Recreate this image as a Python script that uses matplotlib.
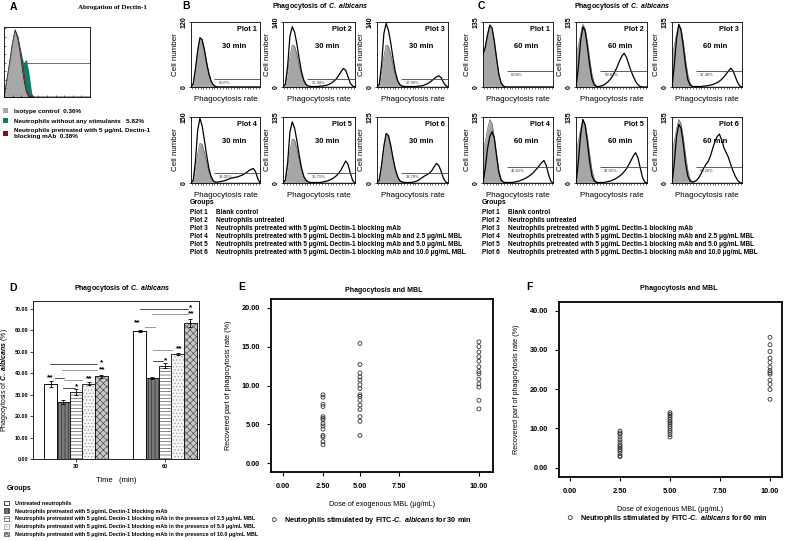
import numpy as np
import matplotlib
matplotlib.use('Agg')
import matplotlib.pyplot as plt

plt.rcParams['font.family'] = ['Liberation Sans', 'DejaVu Sans']
plt.rcParams['font.weight'] = 'bold'
plt.rcParams['mathtext.fontset'] = 'custom'
plt.rcParams['mathtext.it'] = 'Liberation Sans:italic:bold'
plt.rcParams['mathtext.rm'] = 'Liberation Sans:bold'
plt.rcParams['mathtext.bf'] = 'Liberation Sans:bold'
plt.rcParams['hatch.linewidth'] = 0.5

# ---------------- DATA ----------------
# Panel A (relative counts per channel)
A_isotype = [0, .25, .5, .78, .98, .85, .6, .3, .08, 0] + [0] * 22
A_dectin = [0, .25, .5, .78, .98, .88, .66, .38, .12, .02] + [0] * 22
A_nostim = [0, .25, .5, .78, .98, .88, .68, .5, .55, .35, .05] + [0] * 21
A_labels = ["Isotype control  0.36%",
            "Neutrophils without any stimulants   5.82%",
            "Neutrophils pretreated with 5 μg/mL Dectin-1\nblocking mAb  0.38%"]

# Panel B (30 min) histograms, counts per channel
B_ctrl = [0, 6, 32, 66, 90, 88, 70, 46, 26, 12, 4, 1] + [0] * 20
B1 = [0, 6, 33, 67, 91, 87, 69, 45, 25, 11, 4, 1] + [0] * 20
B2 = [0, 6, 45, 110, 130, 118, 92, 60, 32, 14, 5, 2, 1, 1, 1, 1, 2, 2, 3, 4,
      6, 9, 13, 18, 25, 33, 40, 36, 22, 8, 2, 0]
B3 = [0, 6, 48, 115, 137, 122, 95, 62, 33, 14, 5, 2, 1, 1, 1, 1, 1, 1, 2, 2,
      3, 5, 7, 10, 14, 18, 22, 24, 20, 10, 3, 0]
B4 = [0, 6, 50, 120, 147, 130, 98, 64, 34, 15, 5, 2, 2, 3, 4, 5, 7, 9, 11, 12,
      13, 14, 16, 18, 21, 24, 28, 31, 33, 26, 10, 0]
B5 = [0, 6, 42, 105, 125, 112, 86, 56, 30, 13, 5, 2, 1, 1, 1, 1, 1, 2, 3, 4,
      6, 8, 11, 15, 20, 27, 36, 45, 38, 20, 5, 0]
B6 = [0, 6, 34, 70, 94, 90, 71, 47, 26, 12, 4, 2, 1, 1, 1, 1, 2, 3, 5, 8,
      11, 14, 16, 19, 24, 31, 37, 33, 22, 9, 2, 0]
B_curves = [B1, B2, B3, B4, B5, B6]
B_ymax = [120, 140, 140, 150, 135, 125]
B_pct = ['0.07%', '35.98%', '27.00%', '31.05%', '35.71%', '38.70%']

# Panel C (60 min)
C_ctrl = [70, 84, 110, 130, 122, 94, 58, 26, 8, 2, 0] + [0] * 21
C1 = [68, 82, 108, 128, 123, 96, 60, 27, 9, 2, 0] + [0] * 21
C2 = [0, 40, 95, 125, 116, 82, 44, 16, 4, 1, 1, 2, 4, 7, 11, 16, 23, 32, 42, 54,
      64, 70, 62, 48, 34, 22, 12, 5, 1, 0, 0, 0]
C3 = [0, 45, 100, 130, 118, 84, 44, 15, 4, 1, 1, 1, 1, 1, 2, 2, 3, 4, 5, 7,
      9, 12, 16, 21, 27, 33, 39, 34, 22, 10, 2, 0]
C4 = [0, 30, 70, 95, 105, 92, 56, 22, 6, 2, 1, 1, 1, 1, 2, 3, 4, 6, 8, 10,
      13, 16, 20, 25, 30, 36, 42, 46, 36, 18, 4, 0]
C5 = [0, 42, 98, 130, 118, 82, 42, 14, 4, 1, 1, 1, 1, 2, 3, 4, 6, 8, 11, 14,
      18, 23, 29, 37, 46, 55, 62, 52, 32, 12, 2, 0]
C6 = [0, 40, 95, 120, 112, 80, 40, 14, 4, 2, 3, 6, 12, 20, 30, 38, 44, 55, 70, 85,
      95, 100, 88, 72, 62, 52, 38, 25, 14, 6, 1, 0]
C_curves = [C1, C2, C3, C4, C5, C6]
C_ymax = [135, 135, 135, 135, 135, 135]
C_pct = ['0.04%', '59.83%', '37.40%', '46.61%', '47.01%', '63.26%']

plot_groups = ["Blank control",
               "Neutrophils untreated",
               "Neutrophils pretreated with 5 μg/mL Dectin-1 blocking mAb",
               "Neutrophils pretreated with 5 μg/mL Dectin-1 blocking mAb and 2.5 μg/mL MBL",
               "Neutrophils pretreated with 5 μg/mL Dectin-1 blocking mAb and 5.0 μg/mL MBL",
               "Neutrophils pretreated with 5 μg/mL Dectin-1 blocking mAb and 10.0 μg/mL MBL"]

# Panel D
D_times = ['30', '60']
D_groups = ["Untreated neutrophils",
            "Neutrophils pretreated with 5 μg/mL Dectin-1 blocking mAb",
            "Neutrophils pretreated with 5 μg/mL Dectin-1 blocking mAb in the presence of 2.5 μg/mL MBL",
            "Neutrophils pretreated with 5 μg/mL Dectin-1 blocking mAb in the presence of 5.0 μg/mL MBL",
            "Neutrophils pretreated with 5 μg/mL Dectin-1 blocking mAb in the presence of 10.0 μg/mL MBL"]
D_means = [[35.0, 59.7], [26.5, 37.8], [31.2, 43.5], [35.2, 49.0], [38.5, 63.4]]
D_errs = [[1.5, 0.3], [1.0, 0.3], [1.3, 1.2], [0.7, 0.5], [0.5, 1.7]]

# Panels E / F
dose_levels = [2.5, 5.0, 10.0]
E_values = [[8.8, 8.5, 7.6, 7.3, 6.0, 5.8, 5.6, 5.1, 4.8, 4.4, 3.6, 3.4, 2.8, 2.4],
            [15.4, 12.7, 11.6, 11.1, 10.7, 10.1, 9.6, 8.8, 8.6, 8.1, 7.5, 6.9, 6.0, 5.4, 3.6],
            [15.6, 15.0, 14.3, 13.7, 13.1, 12.4, 11.8, 11.5, 10.8, 10.2, 9.8, 8.1, 7.0]]
F_values = [[9.3, 8.8, 8.5, 7.8, 7.1, 6.5, 5.8, 5.4, 5.0, 4.6, 4.2, 3.6, 3.0, 2.8],
            [14.0, 13.6, 13.2, 12.8, 12.3, 11.8, 11.4, 11.0, 10.5, 10.0, 9.5, 9.0, 8.4, 7.8],
            [33.2, 31.3, 29.6, 27.9, 26.8, 25.6, 24.7, 24.2, 23.8, 22.3, 21.2, 19.9, 17.4]]
dose_ticks = [0.0, 2.5, 5.0, 7.5, 10.0]

# ---------------- FIGURE ----------------
W, H = 785, 541
fig = plt.figure(figsize=(W / 100, H / 100), dpi=100)


def add_ax(x0, y0, x1, y1):
    return fig.add_axes([x0 / W, 1 - y1 / H, (x1 - x0) / W, (y1 - y0) / H])


def ftext(x, y, s, **kw):
    return fig.text(x / W, 1 - y / H, s, **kw)


title_ital = r"Phagocytosis of $\it{C.\ albicans}$"

# ---------- Panel A ----------
ftext(13, 7, 'A', fontsize=7.5, ha='center', va='center')
ftext(112, 7, 'Abrogation of Dectin-1', fontsize=5, ha='center', va='center',
      family='Liberation Serif')
axA = add_ax(4, 27, 90, 97)
xa = np.linspace(0, 1, len(A_isotype))
h_teal = axA.fill_between(xa, A_nostim, color='#137a6a', lw=0)
h_red = axA.fill_between(xa, A_dectin, color='#8a1010', lw=0)
h_gray = axA.fill_between(xa, A_isotype, color='#a8a8a8', lw=0)
axA.plot(xa, A_isotype, color='#222222', lw=0.6)
axA.hlines(0.5, 0.24, 1.0, color='#555555', lw=0.6)
axA.set_xlim(0, 1)
axA.set_ylim(0, 1.02)
axA.set_xticks(np.linspace(0, 1, 11), minor=True)
axA.set_yticks(np.linspace(0, 1, 9), minor=True)
axA.set_xticks([])
axA.set_yticks([])
axA.tick_params(which='minor', length=1.2, width=0.4, direction='in')
for s in axA.spines.values():
    s.set_linewidth(0.6)
h_red.set_edgecolor('#d01818')
h_gray.set_edgecolor('#666666')
h_teal.set_edgecolor('#0c5a4e')
fig.legend([h_gray, h_teal, h_red], A_labels, loc='upper left',
           bbox_to_anchor=(3 / W, 1 - 108 / H), frameon=False, fontsize=4.6,
           handlelength=0.8, handleheight=0.8, handletextpad=1.0,
           labelspacing=0.7, borderaxespad=0, borderpad=0)


# ---------- Histogram helper ----------
def hist_plot(box, ctrl, curve, ymax, n, tlab, pct, gate):
    ax = add_ax(*box)
    x = np.linspace(0, 1, len(ctrl))
    ax.fill_between(x, ctrl, color='#a6a6a6', lw=0)
    ax.plot(x, ctrl, color='#666666', lw=0.5)
    ax.plot(x, curve, color='black', lw=0.9)
    ax.set_xlim(0, 1)
    ax.set_ylim(0, ymax)
    ax.set_yticks([0, ymax])
    ax.set_yticklabels(['0', str(ymax)], rotation=90, va='center', fontsize=5)
    ax.set_xticks([])
    ax.set_xticks(np.linspace(0.02, 0.98, 25), minor=True)
    ax.tick_params(axis='y', length=1.5, width=0.5, pad=1)
    ax.tick_params(axis='x', which='minor', length=1.2, width=0.4)
    for s in ax.spines.values():
        s.set_linewidth(0.6)
    ax.hlines(gate * ymax, 0.34, 1.0, color='#444444', lw=0.6)
    ax.text(0.40, gate - 0.03, pct, transform=ax.transAxes, fontsize=3,
            fontweight='normal', color='#333333', va='top')
    ax.text(0.95, 0.94, 'Plot %d' % n, transform=ax.transAxes, ha='right',
            va='top', fontsize=5.2)
    ax.text(0.62, 0.63, tlab, transform=ax.transAxes, ha='center',
            va='center', fontsize=5.5)
    ax.set_ylabel('Cell number', fontsize=5.8, labelpad=1)
    ax.set_xlabel('Phagocytosis rate', fontsize=5.8, labelpad=2)
    return ax


B_cols = [(191, 260), (283, 355), (377, 448)]
C_cols = [(483, 553), (576, 647), (672, 742)]
rows = [(22, 87), (117, 183)]

ftext(186, 6, 'B', fontsize=7.5, ha='center', va='center')
ftext(320, 7, title_ital, fontsize=5, ha='center', va='center')
ftext(481, 6, 'C', fontsize=7.5, ha='center', va='center')
ftext(622, 7, title_ital, fontsize=5, ha='center', va='center')

for k in range(6):
    r, c = divmod(k, 3)
    bx = (B_cols[c][0], rows[r][0], B_cols[c][1], rows[r][1])
    hist_plot(bx, B_ctrl, B_curves[k], B_ymax[k], k + 1, '30 min', B_pct[k],
              0.13 if r == 0 else 0.15)
    cx = (C_cols[c][0], rows[r][0], C_cols[c][1], rows[r][1])
    hist_plot(cx, C_ctrl, C_curves[k], C_ymax[k], k + 1, '60 min', C_pct[k], 0.24)

for x0 in (190, 482):
    ftext(x0, 203, 'Groups', fontsize=5, va='center')
    for i, g in enumerate(plot_groups):
        y = 213 + i * 7.8
        ftext(x0, y, 'Plot %d' % (i + 1), fontsize=4.7, va='center')
        ftext(x0 + 26, y, g, fontsize=4.7, va='center')

# ---------- Panel D ----------
ftext(13, 288, 'D', fontsize=7.5, ha='center', va='center')
ftext(122, 289, title_ital, fontsize=5, ha='center', va='center')
axD = add_ax(33, 301, 199, 459)
xs = np.arange(len(D_times))
bw = 0.143
styles = [dict(facecolor='white', edgecolor='black', hatch=None),
          dict(facecolor='#7a7a7a', edgecolor='#303030', hatch='|||||'),
          dict(facecolor='white', edgecolor='#555555', hatch='-----'),
          dict(facecolor='#f6f6f6', edgecolor='#9a9a9a', hatch='.....'),
          dict(facecolor='#c8c8c8', edgecolor='#505050', hatch='xxxxx')]
bars = []
for k in range(5):
    b = axD.bar(xs + (k - 2) * bw, D_means[k], bw, yerr=D_errs[k], lw=0.5,
                error_kw=dict(elinewidth=0.6, capsize=1.5, capthick=0.6, ecolor='black'),
                **styles[k])
    axD.bar(xs + (k - 2) * bw, D_means[k], bw, fill=False, edgecolor='black', lw=0.5)
    bars.append(b)
axD.set_xlim(-0.483, 1.382)
axD.set_ylim(0, 73.7)
axD.set_yticks(np.arange(0, 71, 10))
axD.set_yticklabels(['%.2f' % v for v in np.arange(0, 71, 10)], fontsize=3.9)
axD.set_xticks(xs)
axD.set_xticklabels(D_times, fontsize=3.9)
axD.tick_params(length=2, width=0.5, pad=1.5)
for s in axD.spines.values():
    s.set_linewidth(0.6)
axD.set_xlabel('Time   (min)', fontsize=5.5, labelpad=6)
axD.set_ylabel(r"Phagocytosis of $\it{C.\ albicans}$ (%)", fontsize=5, labelpad=3)

# significance annotations: (x0, x1, y_line, star_x, star_y, label, color)
sig = [(-0.236, -0.135, 37.6, -0.29, 37.8, '**', 'black'),
       (-0.135, 0.067, 36.9, None, None, '', '#999999'),
       (-0.146, -0.011, 33.1, 0.011, 33.6, '*', 'black'),
       (None, None, None, 0.146, 37.3, '**', 'black'),
       (-0.292, 0.236, 44.3, 0.292, 44.8, '*', 'black'),
       (-0.157, 0.236, 41.5, 0.292, 41.5, '**', '#999999'),
       (0.719, 1.258, 70.0, 1.292, 70.5, '*', 'black'),
       (0.854, 1.258, 67.7, 1.292, 67.7, '**', '#999999'),
       (0.775, 0.888, 61.6, 0.685, 63.5, '**', '#999999'),
       (0.865, 1.079, 50.9, 1.157, 51.3, '**', '#999999'),
       (0.865, 0.978, 45.7, 1.011, 45.7, '*', 'black')]
for x0, x1, yl, sx, sy, lab, col in sig:
    if x0 is not None:
        axD.plot([x0, x1], [yl, yl], color=col, lw=0.7 if col != 'black' else 0.5)
    if lab:
        axD.text(sx, sy, lab, ha='center', va='center', fontsize=6)

ftext(7, 488, 'Groups', fontsize=5, va='center')
fig.legend([b for b in bars], D_groups, loc='upper left',
           bbox_to_anchor=(4 / W, 1 - 500.5 / H), frameon=False, fontsize=3.85,
           handlelength=1.0, handleheight=1.0, handletextpad=1.1,
           labelspacing=0.48, borderaxespad=0, borderpad=0)


# ---------- Panels E / F ----------
def e_fwd(v):
    return np.interp(v, [-10, 0, 2.5, 5, 7.5, 10, 20], [-160, 0, 40, 77, 116, 196, 524])


def e_inv(p):
    return np.interp(p, [-160, 0, 40, 77, 116, 196, 524], [-10, 0, 2.5, 5, 7.5, 10, 20])


def scatter_panel(box, values, yticks, ylim, xlim, minutes, letter, lpos, tpos, legy, scale=None):
    ax = add_ax(*box)
    if scale is not None:
        ax.set_xscale('function', functions=scale)
    h = None
    for d, vals in zip(dose_levels, values):
        h = ax.scatter([d] * len(vals), vals, s=8, facecolors='none',
                       edgecolors='#333333', linewidths=0.6)
    ax.set_xlim(*xlim)
    ax.set_ylim(*ylim)
    ax.set_xticks(dose_ticks)
    ax.set_xticklabels(['%.2f' % v for v in dose_ticks], fontsize=5.3)
    ax.set_yticks(yticks)
    ax.set_yticklabels(['%.2f' % v for v in yticks], fontsize=5.3)
    ax.xaxis.set_minor_locator(matplotlib.ticker.NullLocator())
    ax.tick_params(length=3, width=0.8, pad=5)
    for s in ax.spines.values():
        s.set_linewidth(1.3)
    ax.set_xlabel('Dose of exogenous MBL (μg/mL)', fontsize=5.2, labelpad=8)
    ax.set_ylabel('Recovered part of phagocytosis rate (%)', fontsize=5.2, labelpad=7)
    ftext(lpos[0], lpos[1], letter, fontsize=7.5, ha='center', va='center')
    ftext(tpos[0], tpos[1], 'Phagocytosis and MBL', fontsize=5, ha='center', va='center')
    fig.legend([h], [r"Neutrophils stimulated by FITC-$\it{C.\ albicans}$ for %d min" % minutes],
               loc='center left', bbox_to_anchor=(legy[0] / W, 1 - legy[1] / H),
               frameon=False, fontsize=5.2, handletextpad=0.3, borderaxespad=0,
               borderpad=0, scatterpoints=1)
    return ax


scatter_panel((271, 299, 493, 472), E_values, [0, 5, 10, 15, 20], (-1.1, 21.1),
              (-0.75, 10.43), 30, 'E', (242, 287), (384, 290), (267, 520),
              scale=(e_fwd, e_inv))
scatter_panel((559, 302, 782, 477), F_values, [0, 10, 20, 30, 40], (-2.4, 42.2),
              (-0.55, 10.6), 60, 'F', (529, 287), (679, 289), (563, 518))

fig.savefig('out.png', dpi=100)
